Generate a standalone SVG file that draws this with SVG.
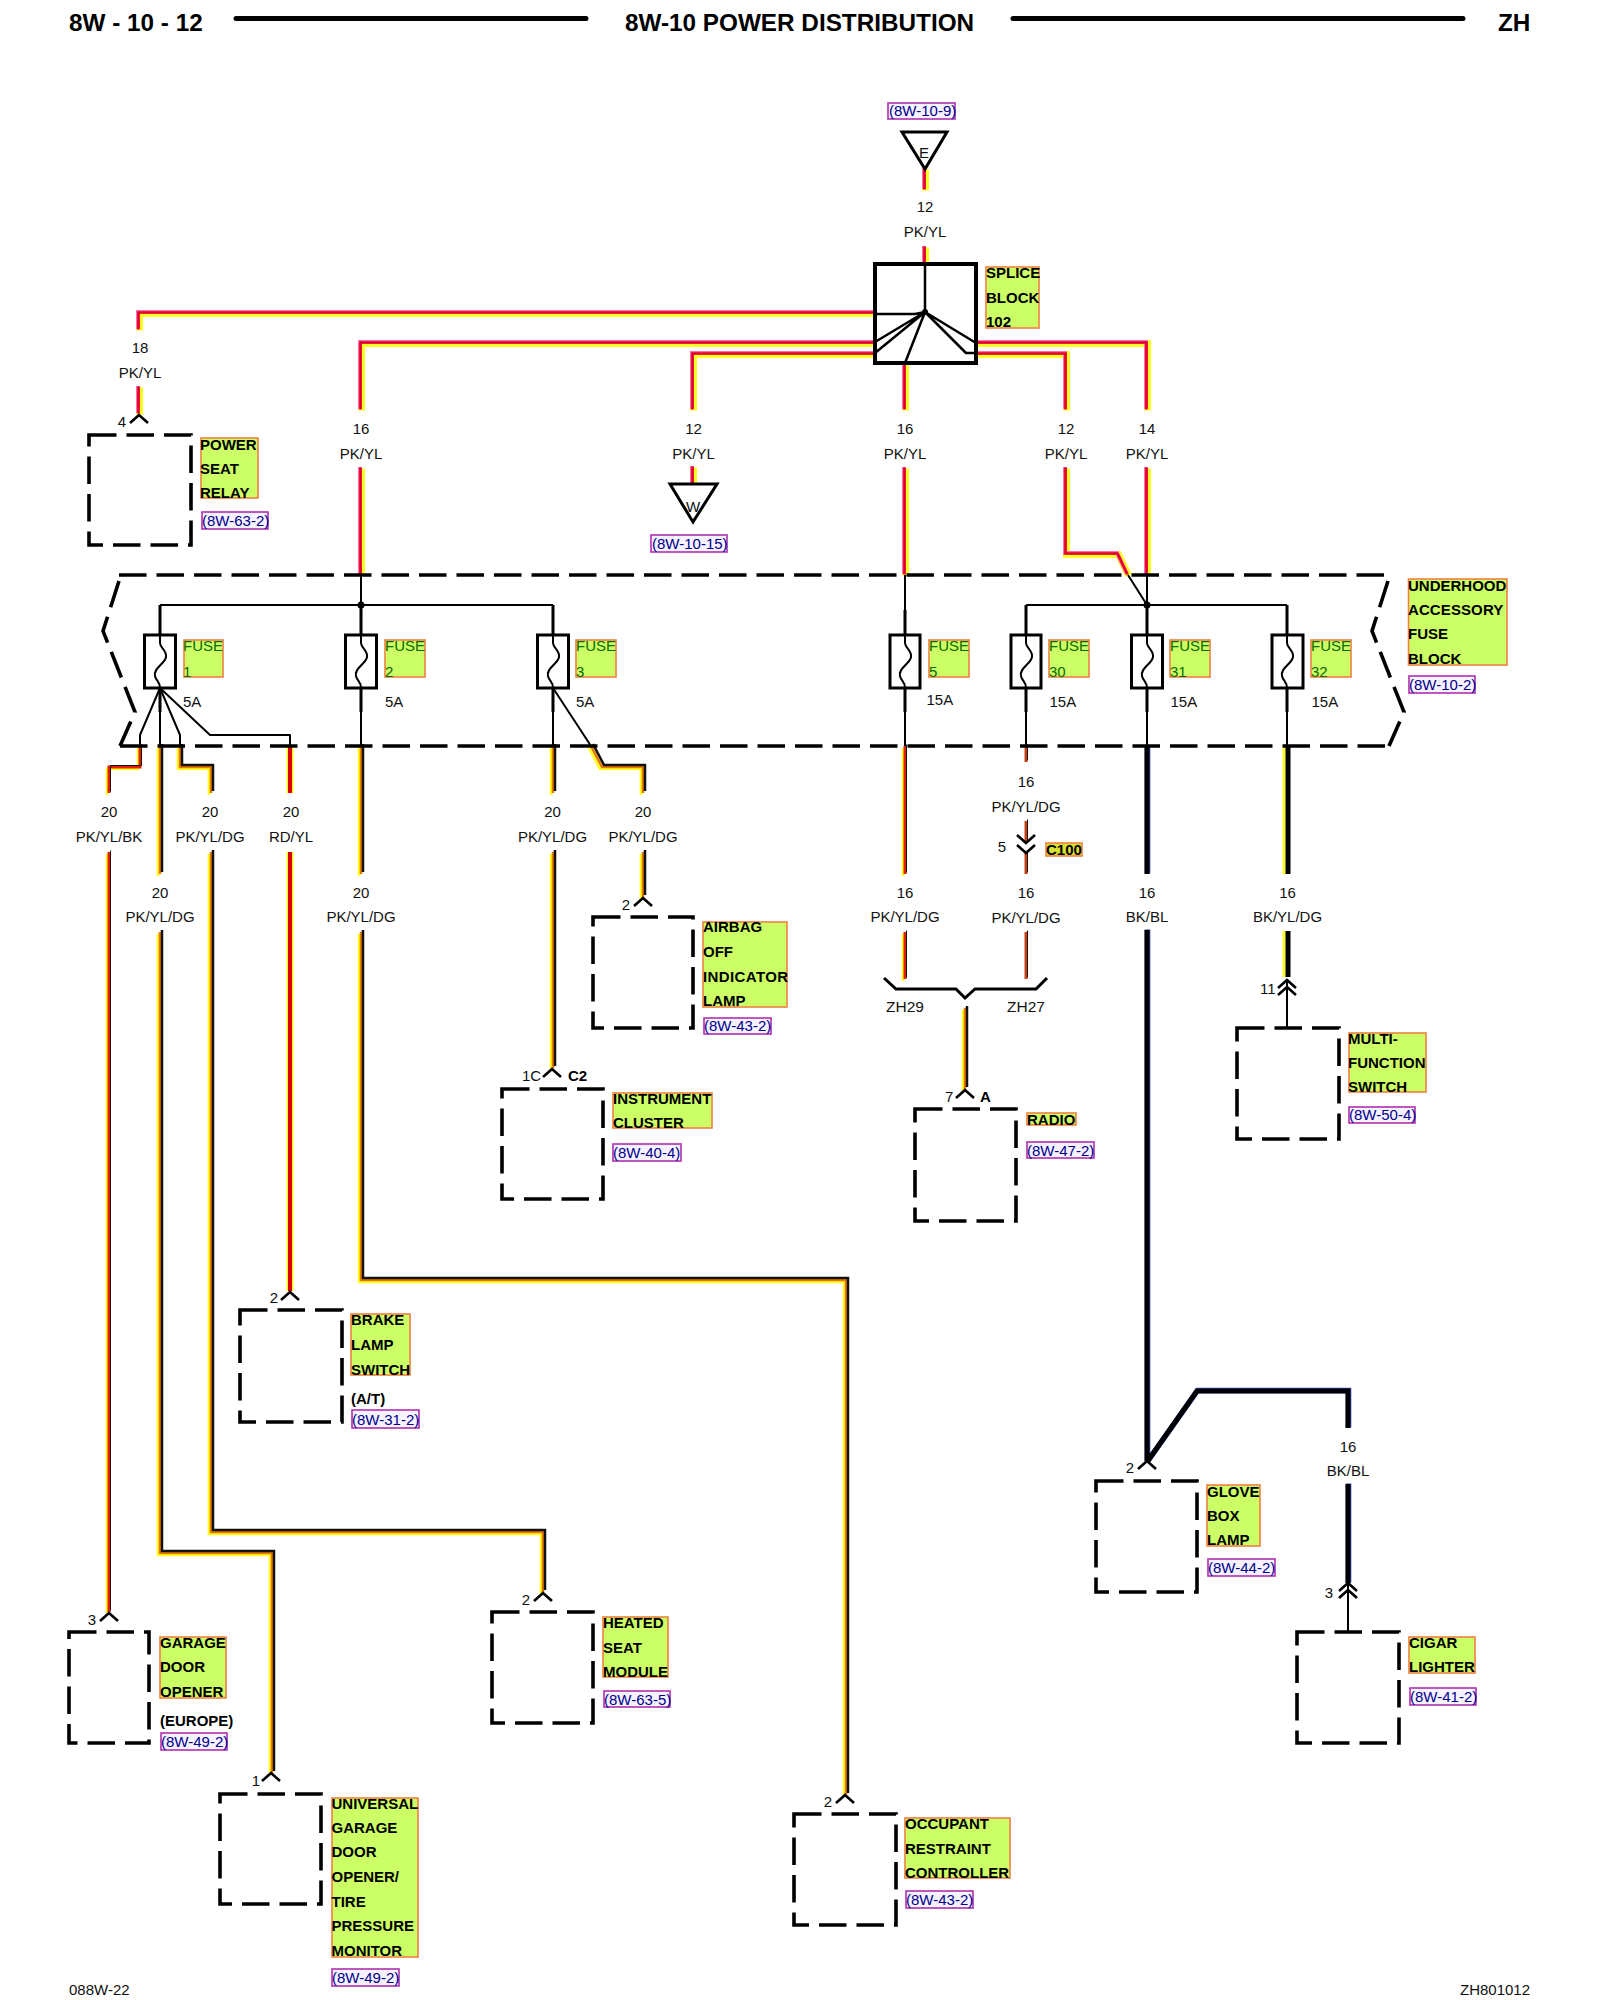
<svg xmlns="http://www.w3.org/2000/svg" xmlns:xlink="http://www.w3.org/1999/xlink" width="1600" height="2000" viewBox="0 0 1600 2000">
<style>
text{font-family:"Liberation Sans",Arial,sans-serif;font-size:15px;fill:#111}
.m{text-anchor:middle}
.hd{font-size:24.300px;font-weight:700;fill:#000}
.b{font-weight:700;fill:#000}
.fu{fill:#0a6a00}
.ref{fill:#00008c}
.lab{fill:#ccff66;stroke:#f08040;stroke-width:1.6}
.rb{fill:#f6f2ff;stroke:#b030b0;stroke-width:1.6}
.box{fill:none;stroke:#000;stroke-width:3.600;stroke-dasharray:27.5 10}
.bk{fill:none;stroke:#000;stroke-width:2;stroke-linejoin:round}
.bk3{fill:none;stroke:#000;stroke-width:3}
.fuse{fill:#fff;stroke:#000;stroke-width:3}
.pin{fill:none;stroke:#000;stroke-width:2.6}
.w{fill:none;stroke-linejoin:miter}
.dy{stroke:#ffff20;stroke-width:2.600}
.do{stroke:#e87800;stroke-width:2.600}
.dr{stroke:#e02000;stroke-width:3}
.dt{stroke:#c84010;stroke-width:3}
.dk{stroke:#111;stroke-width:2.500}
.py{stroke:#ffff20;stroke-width:7}
.pp{stroke:#ff70a8;stroke-width:4}
.pr{stroke:#e00028;stroke-width:2.6}
.rr{stroke:#d80000;stroke-width:4}
.kb{stroke:#3048c0;stroke-width:5.6}
.kk{stroke:#000;stroke-width:5}
.ky{stroke:#ffff20;stroke-width:3}
</style>
<defs>
<path id="pinUp" d="M-9 8L0 0L9 8"/>
<path id="pinDn" d="M-9 -8L0 0L9 -8"/>
<path id="fz" d="M0 0V8C0 13 7 15 6 22C5 29 -7 33 -5 41C-4 46 0 46 0 53"/>
<path id="wPk" d="M925 169V190M925 247V264M875 313H139V330M139 387V414M875 343H361V410M361 468V575M875 354H693V410M693 467V484M905 363V410M905 468V575M976 354H1066V410M1066 468V554H1118L1128 575M976 343H1147V410M1147 468V575"/>
<path id="wDg" d="M160 746V874M160 932V1553H272V1773M180 746V767H211V793M211 852V1532H543V1592M361 746V874M361 932V1280H846V1795M553 746V793M553 852V1068M591 746L602 767H643V793M643 852V897M965 1008V1089"/>
<path id="wDr" d="M140 746V767H109V793M109 852V1612M905 746V874M905 932V979"/>
<path id="wDt" d="M1026 746V762M1026 821V843M1026 853V874M1026 932V979"/>
<path id="wRd" d="M290 746V793M290 852V1291"/>
<path id="wBk" d="M1147 746V874M1147 930V1461M1147 1462L1197 1391H1348V1428M1348 1484V1583"/>
<path id="wBy" d="M1287 746V874M1287 931V977"/>
</defs>
<rect width="1600" height="2000" fill="#fff"/>

<g id="header">
<text class="hd" x="69" y="31">8W - 10 - 12</text>
<text class="hd" x="625" y="31">8W-10 POWER DISTRIBUTION</text>
<text class="hd" x="1498" y="31">ZH</text>
<path d="M236 18.500H586M1013 18.500H1463" fill="none" stroke="#000" stroke-width="5" stroke-linecap="round"/>
<text x="69" y="1995">088W-22</text>
<text x="1460" y="1995">ZH801012</text>
</g>

<g id="connectors">
<g class="w">
<use href="#wPk" class="py" transform="translate(.5 .5)"/>
<use href="#wPk" class="pp" transform="translate(-1 -1)"/>
<use href="#wPk" class="pr" transform="translate(-.5 -.5)"/>
<use href="#wRd" class="py"/>
<use href="#wRd" class="rr"/>
<use href="#wDg" class="dy" transform="translate(-2 2)"/>
<use href="#wDg" class="do"/>
<use href="#wDg" class="dk" transform="translate(2 -2)"/>
<use href="#wDr" class="dy" transform="translate(-2 2)"/>
<use href="#wDr" class="dr"/>
<use href="#wDr" class="dk" transform="translate(1.500 -1.500)" style="stroke-width:1"/>
<use href="#wDt" class="dt"/>
<use href="#wDt" class="dk" transform="translate(1.500 -1.500)" style="stroke-width:1"/>
<use href="#wBk" class="kb" transform="translate(.5 -.5)"/>
<use href="#wBk" class="kk"/>
<use href="#wBy" class="ky" transform="translate(-3 0)"/>
<use href="#wBy" class="kk" transform="translate(1 0)"/>
</g>
<path class="bk" d="M160 605H553M1026 605H1287M361 575V605M905 575V610M1128 575L1147 605M1147 575V605M160 688L140 735V746M160 712V746M160 688L180 735V746M160 688L210 735H290V746M361 712V746M553 712V746M553 688L591 746M905 712V746M1026 712V746M1147 712V746M1287 712V746"/>
<path class="bk3" d="M160 605V640M160 688V712M361 605V640M361 688V712M553 605V640M553 688V712M905 610V640M905 688V712M1026 605V640M1026 688V712M1147 605V640M1147 688V712M1287 605V640M1287 688V712"/>
<path class="bk" d="M1287 980V1028M1348 1583V1631"/>
<circle cx="361" cy="605" r="3.500"/>
<circle cx="1147" cy="605" r="3.500"/>
<path class="bk3" d="M884 978L896 989H956L965 998L975 989H1036L1047 978"/>
</g>

<g id="wire-labels">
<text class="m" x="925" y="212">12</text><text class="m" x="925" y="237">PK/YL</text>
<text class="m" x="140" y="353">18</text><text class="m" x="140" y="378">PK/YL</text>
<text class="m" x="361" y="434">16</text><text class="m" x="361" y="459">PK/YL</text>
<text class="m" x="693.500" y="434">12</text><text class="m" x="693.500" y="459">PK/YL</text>
<text class="m" x="905" y="434">16</text><text class="m" x="905" y="459">PK/YL</text>
<text class="m" x="1066" y="434">12</text><text class="m" x="1066" y="459">PK/YL</text>
<text class="m" x="1147" y="434">14</text><text class="m" x="1147" y="459">PK/YL</text>
<text class="m" x="109" y="817">20</text><text class="m" x="109" y="841.500">PK/YL/BK</text>
<text class="m" x="210" y="817">20</text><text class="m" x="210" y="841.500">PK/YL/DG</text>
<text class="m" x="291" y="817">20</text><text class="m" x="291" y="841.500">RD/YL</text>
<text class="m" x="552.500" y="817">20</text><text class="m" x="552.500" y="841.500">PK/YL/DG</text>
<text class="m" x="643" y="817">20</text><text class="m" x="643" y="841.500">PK/YL/DG</text>
<text class="m" x="160" y="898">20</text><text class="m" x="160" y="922">PK/YL/DG</text>
<text class="m" x="361" y="898">20</text><text class="m" x="361" y="922">PK/YL/DG</text>
<text class="m" x="905" y="898">16</text><text class="m" x="905" y="922">PK/YL/DG</text>
<text class="m" x="1026" y="787">16</text><text class="m" x="1026" y="812">PK/YL/DG</text>
<text class="m" x="1026" y="898">16</text><text class="m" x="1026" y="923">PK/YL/DG</text>
<text class="m" x="1147" y="898">16</text><text class="m" x="1147" y="922">BK/BL</text>
<text class="m" x="1287.500" y="898">16</text><text class="m" x="1287.500" y="922">BK/YL/DG</text>
<text class="m" x="1348" y="1452">16</text><text class="m" x="1348" y="1476">BK/BL</text>
<text class="m" x="905" y="1012" style="font-size:15.500px">ZH29</text>
<text class="m" x="1026" y="1012" style="font-size:15.500px">ZH27</text>
</g>

<g id="splice-e">
<rect class="rb" x="888" y="103" width="67" height="16"/>
<text class="ref" x="889" y="116">(8W-10-9)</text>
<path d="M902 132H947L925 169Z" fill="none" stroke="#000" stroke-width="3"/>
<text class="m" x="924" y="158">E</text>
</g>

<g id="splice-block">
<rect x="875" y="264" width="101" height="99" fill="#fff" stroke="#000" stroke-width="4"/>
<path class="bk" style="stroke-width:2.500" d="M925 264V312M875 314H915L925 312M875 342L925 312M875 353L925 312M905 363L925 312M976 343L925 312L966 353H976"/>
<circle cx="925" cy="312" r="3"/>
<rect class="lab" x="986" y="267" width="53" height="61"/>
<text class="b" x="986" y="278">SPLICE</text><text class="b" x="986" y="303">BLOCK</text><text class="b" x="986" y="327">102</text>
</g>

<g id="power-seat-relay">
<use href="#pinUp" class="pin" x="139" y="415"/>
<text class="m" x="122" y="427">4</text>
<rect class="box" x="89" y="435" width="102" height="110"/>
<rect class="lab" x="201" y="438" width="57" height="60"/>
<text class="b" x="200" y="450">POWER</text><text class="b" x="200" y="474">SEAT</text><text class="b" x="200" y="498">RELAY</text>
<rect class="rb" x="202" y="512" width="66" height="17"/>
<text class="ref" x="202" y="526">(8W-63-2)</text>
</g>

<g id="splice-w">
<path d="M670 484H717L693 522Z" fill="none" stroke="#000" stroke-width="3"/>
<text class="m" x="693" y="512">W</text>
<rect class="rb" x="651" y="535" width="76" height="17"/>
<text class="ref" x="652" y="549">(8W-10-15)</text>
</g>

<g id="fuse-block">
<path class="box" d="M119 575H1389M120 746H1389"/>
<path class="box" d="M119 581L103 631L135 712L120 746"/>
<path class="box" d="M1388 581L1372 631L1404 712L1389 746"/>
<rect class="lab" x="1408.500" y="579" width="98.500" height="86"/>
<text class="b" x="1408" y="591">UNDERHOOD</text><text class="b" x="1408" y="615" style="letter-spacing:.1px">ACCESSORY</text><text class="b" x="1408" y="639">FUSE</text><text class="b" x="1408" y="664">BLOCK</text>
<rect class="rb" x="1409" y="676" width="66" height="17"/>
<text class="ref" x="1409" y="690">(8W-10-2)</text>
</g>
<g id="fuse-1"><rect class="fuse" x="144.500" y="635" width="31" height="53"/><use href="#fz" class="bk" x="160" y="635"/><rect class="lab" x="184" y="640" width="39" height="37"/><text class="fu" x="183" y="651">FUSE</text><text class="fu" x="183" y="677">1</text><text x="183" y="707">5A</text></g>
<g id="fuse-2"><rect class="fuse" x="345.500" y="635" width="31" height="53"/><use href="#fz" class="bk" x="361" y="635"/><rect class="lab" x="385" y="640" width="40" height="37"/><text class="fu" x="385" y="651">FUSE</text><text class="fu" x="385" y="677">2</text><text x="385" y="707">5A</text></g>
<g id="fuse-3"><rect class="fuse" x="537.500" y="635" width="31" height="53"/><use href="#fz" class="bk" x="553" y="635"/><rect class="lab" x="576" y="640" width="40" height="37"/><text class="fu" x="576" y="651">FUSE</text><text class="fu" x="576" y="677">3</text><text x="576" y="707">5A</text></g>
<g id="fuse-5"><rect class="fuse" x="890" y="635" width="30" height="53"/><use href="#fz" class="bk" x="905" y="635"/><rect class="lab" x="929" y="640" width="40" height="37"/><text class="fu" x="929" y="651">FUSE</text><text class="fu" x="929" y="677">5</text><text x="926.500" y="705">15A</text></g>
<g id="fuse-30"><rect class="fuse" x="1011" y="635" width="30" height="53"/><use href="#fz" class="bk" x="1026" y="635"/><rect class="lab" x="1049" y="640" width="40" height="37"/><text class="fu" x="1049" y="651">FUSE</text><text class="fu" x="1049" y="677">30</text><text x="1049.500" y="707">15A</text></g>
<g id="fuse-31"><rect class="fuse" x="1131.500" y="635" width="31" height="53"/><use href="#fz" class="bk" x="1147" y="635"/><rect class="lab" x="1170" y="640" width="40" height="37"/><text class="fu" x="1170" y="651">FUSE</text><text class="fu" x="1170" y="677">31</text><text x="1170.500" y="707">15A</text></g>
<g id="fuse-32"><rect class="fuse" x="1272" y="635" width="31" height="53"/><use href="#fz" class="bk" x="1287" y="635"/><rect class="lab" x="1311" y="640" width="40" height="37"/><text class="fu" x="1311" y="651">FUSE</text><text class="fu" x="1311" y="677">32</text><text x="1311.500" y="707">15A</text></g>

<g id="c100">
<use href="#pinDn" class="pin" x="1026" y="843"/>
<use href="#pinDn" class="pin" x="1026" y="853"/>
<text class="m" x="1002" y="852">5</text>
<rect x="1046" y="843" width="36" height="13" fill="#d8e030" stroke="#f08040" stroke-width="1.600"/>
<text class="b" x="1046" y="855">C100</text>
</g>

<g id="airbag-off-indicator-lamp">
<use href="#pinUp" class="pin" x="643" y="898"/>
<text class="m" x="626" y="910">2</text>
<rect class="box" x="593" y="917" width="100" height="111"/>
<rect class="lab" x="703" y="922" width="84" height="85"/>
<text class="b" x="703" y="932">AIRBAG</text><text class="b" x="703" y="957">OFF</text><text class="b" x="703" y="982" style="letter-spacing:.4px">INDICATOR</text><text class="b" x="703" y="1006">LAMP</text>
<rect class="rb" x="704" y="1018" width="67" height="16"/>
<text class="ref" x="704" y="1031">(8W-43-2)</text>
</g>

<g id="instrument-cluster">
<use href="#pinUp" class="pin" x="552" y="1069"/>
<text x="522" y="1081">1C</text>
<text class="b" x="568" y="1081">C2</text>
<rect class="box" x="502" y="1089" width="101" height="110"/>
<rect class="lab" x="613" y="1093" width="99" height="35"/>
<text class="b" x="613" y="1104">INSTRUMENT</text><text class="b" x="613" y="1128">CLUSTER</text>
<rect class="rb" x="613" y="1144" width="68" height="17"/>
<text class="ref" x="613" y="1158">(8W-40-4)</text>
</g>

<g id="radio">
<use href="#pinUp" class="pin" x="965" y="1090"/>
<text x="945" y="1102">7</text>
<text class="b" x="980" y="1102">A</text>
<rect class="box" x="915" y="1109" width="101" height="112"/>
<rect class="lab" x="1027" y="1113" width="49" height="12"/>
<text class="b" x="1027" y="1124.500">RADIO</text>
<rect class="rb" x="1027" y="1142" width="67" height="16"/>
<text class="ref" x="1027" y="1156">(8W-47-2)</text>
</g>

<g id="multi-function-switch">
<use href="#pinUp" class="pin" x="1287" y="980"/>
<use href="#pinUp" class="pin" x="1287" y="987"/>
<text x="1260" y="994">11</text>
<rect class="box" x="1237" y="1028" width="102" height="111"/>
<rect class="lab" x="1349" y="1033" width="77" height="59"/>
<text class="b" x="1348" y="1044">MULTI-</text><text class="b" x="1348" y="1068">FUNCTION</text><text class="b" x="1348" y="1092">SWITCH</text>
<rect class="rb" x="1349" y="1107" width="66" height="16"/>
<text class="ref" x="1349" y="1120">(8W-50-4)</text>
</g>

<g id="brake-lamp-switch">
<use href="#pinUp" class="pin" x="290" y="1292"/>
<text class="m" x="274" y="1303">2</text>
<rect class="box" x="240" y="1310" width="102" height="112"/>
<rect class="lab" x="351" y="1314" width="59" height="61"/>
<text class="b" x="351" y="1325">BRAKE</text><text class="b" x="351" y="1350">LAMP</text><text class="b" x="351" y="1375">SWITCH</text>
<text class="b" x="351" y="1404">(A/T)</text>
<rect class="rb" x="352" y="1410" width="67" height="18"/>
<text class="ref" x="352" y="1425">(8W-31-2)</text>
</g>

<g id="glove-box-lamp">
<use href="#pinUp" class="pin" x="1147" y="1461"/>
<text class="m" x="1130" y="1473">2</text>
<rect class="box" x="1096" y="1481" width="101" height="111"/>
<rect class="lab" x="1207" y="1485" width="53" height="61"/>
<text class="b" x="1207" y="1496.500">GLOVE</text><text class="b" x="1207" y="1521">BOX</text><text class="b" x="1207" y="1545">LAMP</text>
<rect class="rb" x="1208" y="1559" width="67" height="17"/>
<text class="ref" x="1208" y="1573">(8W-44-2)</text>
</g>

<g id="cigar-lighter">
<use href="#pinUp" class="pin" x="1348" y="1583"/>
<use href="#pinUp" class="pin" x="1348" y="1590"/>
<text class="m" x="1329" y="1598">3</text>
<rect class="box" x="1297" y="1632" width="102" height="111"/>
<rect class="lab" x="1409" y="1637" width="66" height="36"/>
<text class="b" x="1409" y="1648">CIGAR</text><text class="b" x="1409" y="1672">LIGHTER</text>
<rect class="rb" x="1410" y="1688" width="66" height="17"/>
<text class="ref" x="1410" y="1702">(8W-41-2)</text>
</g>

<g id="garage-door-opener">
<use href="#pinUp" class="pin" x="109" y="1613"/>
<text class="m" x="92" y="1625">3</text>
<rect class="box" x="69" y="1632" width="80" height="111"/>
<rect class="lab" x="160" y="1637" width="66" height="61"/>
<text class="b" x="160" y="1648">GARAGE</text><text class="b" x="160" y="1672">DOOR</text><text class="b" x="160" y="1697">OPENER</text>
<text class="b" x="160" y="1726">(EUROPE)</text>
<rect class="rb" x="161" y="1733" width="66" height="17"/>
<text class="ref" x="161" y="1747">(8W-49-2)</text>
</g>

<g id="heated-seat-module">
<use href="#pinUp" class="pin" x="543" y="1593"/>
<text class="m" x="526" y="1605">2</text>
<rect class="box" x="492" y="1612" width="101" height="111"/>
<rect class="lab" x="603" y="1617" width="65" height="60"/>
<text class="b" x="603" y="1628">HEATED</text><text class="b" x="603" y="1652.500">SEAT</text><text class="b" x="603" y="1677">MODULE</text>
<rect class="rb" x="604" y="1691" width="66" height="16"/>
<text class="ref" x="604" y="1705">(8W-63-5)</text>
</g>

<g id="universal-garage-door-opener">
<use href="#pinUp" class="pin" x="271" y="1773"/>
<text class="m" x="256" y="1786">1</text>
<rect class="box" x="220" y="1794" width="101" height="110"/>
<rect class="lab" x="332" y="1798" width="86" height="159"/>
<text class="b" x="331.500" y="1809">UNIVERSAL</text><text class="b" x="331.500" y="1833">GARAGE</text><text class="b" x="331.500" y="1857">DOOR</text><text class="b" x="331.500" y="1882">OPENER/</text><text class="b" x="331.500" y="1906.500">TIRE</text><text class="b" x="331.500" y="1931">PRESSURE</text><text class="b" x="331.500" y="1956">MONITOR</text>
<rect class="rb" x="332" y="1969" width="67" height="17"/>
<text class="ref" x="332" y="1983">(8W-49-2)</text>
</g>

<g id="occupant-restraint-controller">
<use href="#pinUp" class="pin" x="845" y="1795"/>
<text class="m" x="828" y="1807">2</text>
<rect class="box" x="794" y="1814" width="102" height="111"/>
<rect class="lab" x="905" y="1818" width="105" height="60"/>
<text class="b" x="905" y="1829">OCCUPANT</text><text class="b" x="905" y="1854">RESTRAINT</text><text class="b" x="905" y="1878">CONTROLLER</text>
<rect class="rb" x="906" y="1891" width="67" height="17"/>
<text class="ref" x="906" y="1905">(8W-43-2)</text>
</g>
</svg>
